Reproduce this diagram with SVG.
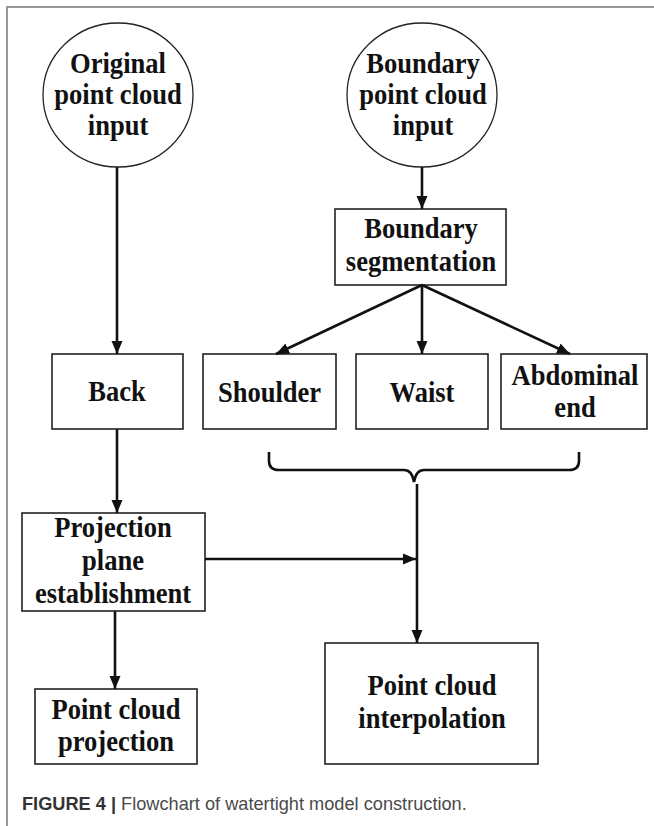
<svg xmlns="http://www.w3.org/2000/svg" width="654" height="826" viewBox="0 0 654 826">
<style>
.node{fill:#fff;stroke:#222;stroke-width:1.6}
.circ{fill:#fff;stroke:#222;stroke-width:1.3}
.lbl{font-family:"Liberation Serif","Times New Roman",serif;font-weight:bold;font-size:29.5px;fill:#111;text-anchor:middle;transform-box:fill-box;transform-origin:center;transform:scaleX(0.9)}
.con{fill:none;stroke:#111;stroke-width:2.6}
.frame{stroke:#999;stroke-width:2;fill:none}
.cap{font-family:"Liberation Sans",Arial,sans-serif;font-size:18.2px;fill:#4a4a4a}
</style>
<defs>
<marker id="arr" markerUnits="userSpaceOnUse" markerWidth="14" markerHeight="12" refX="13" refY="6" orient="auto">
<path d="M0,0.5 L13,6 L0,11.5 Z" fill="#111"/>
</marker>
</defs>
<rect width="654" height="826" fill="#fff"/>
<path class="frame" d="M7,826 V7 H654"/>

<g id="original">
<ellipse class="circ" cx="118" cy="95" rx="75" ry="72"/>
<text class="lbl" x="118" y="73">Original</text>
<text class="lbl" x="118" y="104">point cloud</text>
<text class="lbl" x="118" y="135">input</text>
</g>
<g id="boundary-input">
<ellipse class="circ" cx="422" cy="95" rx="75" ry="72"/>
<text class="lbl" x="423" y="73">Boundary</text>
<text class="lbl" x="423" y="104">point cloud</text>
<text class="lbl" x="423" y="135">input</text>
</g>
<g id="segmentation">
<rect class="node" x="335" y="209" width="171" height="76"/>
<text class="lbl" x="421" y="238">Boundary</text>
<text class="lbl" x="421" y="271">segmentation</text>
</g>
<g id="back">
<rect class="node" x="52" y="354" width="131" height="75"/>
<text class="lbl" x="117" y="401">Back</text>
</g>
<g id="shoulder">
<rect class="node" x="203" y="354" width="133" height="75"/>
<text class="lbl" x="269.5" y="402">Shoulder</text>
</g>
<g id="waist">
<rect class="node" x="356" y="354" width="132" height="75"/>
<text class="lbl" x="422" y="402">Waist</text>
</g>
<g id="abdominal">
<rect class="node" x="501" y="354" width="146" height="75"/>
<text class="lbl" x="575" y="385">Abdominal</text>
<text class="lbl" x="575" y="417">end</text>
</g>
<g id="projection-plane">
<rect class="node" x="22" y="513" width="183" height="98"/>
<text class="lbl" x="113" y="537">Projection</text>
<text class="lbl" x="113" y="570">plane</text>
<text class="lbl" x="113" y="603">establishment</text>
</g>
<g id="pc-projection">
<rect class="node" x="35" y="689" width="162" height="75"/>
<text class="lbl" x="116" y="719">Point cloud</text>
<text class="lbl" x="116" y="751">projection</text>
</g>
<g id="pc-interpolation">
<rect class="node" x="325" y="643" width="213" height="121"/>
<text class="lbl" x="432" y="695">Point cloud</text>
<text class="lbl" x="432" y="728">interpolation</text>
</g>

<g id="connectors">
<line class="con" x1="117" y1="167" x2="117" y2="354" marker-end="url(#arr)"/>
<line class="con" x1="422" y1="167" x2="422" y2="209" marker-end="url(#arr)"/>
<line class="con" x1="422" y1="285" x2="276" y2="354" marker-end="url(#arr)"/>
<line class="con" x1="422" y1="285" x2="422" y2="354" marker-end="url(#arr)"/>
<line class="con" x1="422" y1="285" x2="570" y2="354" marker-end="url(#arr)"/>
<line class="con" x1="117" y1="429" x2="117" y2="513" marker-end="url(#arr)"/>
<line class="con" x1="115" y1="611" x2="115" y2="689" marker-end="url(#arr)"/>
<line class="con" x1="205" y1="559" x2="416" y2="559" marker-end="url(#arr)"/>
<path class="con" d="M269,452 V461 Q269,470 279,470 H404 Q412,470 414,482 Q416,470 424,470 H569 Q579,470 579,461 V452"/>
<line class="con" x1="417" y1="484" x2="417" y2="643" marker-end="url(#arr)"/>
</g>

<text class="cap" x="22" y="810"><tspan font-weight="bold" fill="#333">FIGURE 4 | </tspan>Flowchart of watertight model construction.</text>
</svg>
